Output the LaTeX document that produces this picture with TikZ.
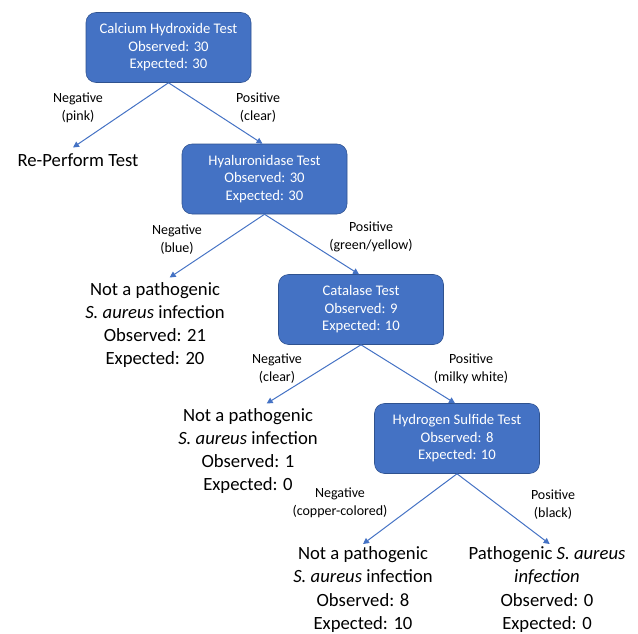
\documentclass[tikz,border=0pt]{standalone}
\usepackage{fontspec}
\setmainfont{Carlito}
\usetikzlibrary{arrows.meta}
\definecolor{boxblue}{HTML}{4472C4}
\definecolor{boxedge}{HTML}{2F528F}
\definecolor{lineblue}{HTML}{4472C4}

\begin{document}
\begin{tikzpicture}[
	x=0.75pt, y=-0.75pt,
	test/.style={rectangle, rounded corners=7.5pt, draw=boxedge, fill=boxblue, text=white, align=center, minimum width=123.75pt, minimum height=52.5pt, font=\fontsize{11}{13.1}\selectfont},
	result/.style={align=center, font=\fontsize{14}{17.4}\selectfont},
	branch/.style={align=center, font=\fontsize{10.5}{13.5}\selectfont},
	line/.style={draw=lineblue, line width=0.75pt, -{Triangle[width=4.5pt,length=4.5pt]}}
	]
	\useasboundingbox (0,0) rectangle (638,633);
	
	% Tests
	\node[test] (calcium) at (168.5,47.5) {Calcium Hydroxide Test\\Observed: 30\\Expected: 30};
	\node[test] (hyal) at (264.5,179) {Hyaluronidase Test\\Observed: 30\\Expected: 30};
	\node[test] (catalase) at (361,309.5) {Catalase Test\\Observed: 9\\Expected: 10};
	\node[test] (sulfide) at (457,438.5) {Hydrogen Sulfide Test\\Observed: 8\\Expected: 10};
	
	% Outcomes
	\node[result] (reperform) at (78,160) {Re-Perform Test};
	\node[result] (notA) at (155,325) {Not a pathogenic\\\textit{S. aureus} infection\\Observed: 21\\Expected: 20};
	\node[result] (notB) at (248,451) {Not a pathogenic\\\textit{S. aureus} infection\\Observed: 1\\Expected: 0};
	\node[result] (notC) at (363,589.5) {Not a pathogenic\\\textit{S. aureus} infection\\Observed: 8\\Expected: 10};
	\node[result] (patho) at (547,589.5) {Pathogenic \textit{S. aureus}\\\textit{infection}\\Observed: 0\\Expected: 0};
	
	% Branch labels
	\node[branch] (negA) at (78,108) {Negative\\(pink)};
	\node[branch] (posA) at (258,108) {Positive\\(clear)};
	\node[branch] (negB) at (177,239.5) {Negative\\(blue)};
	\node[branch] (posB) at (371,237) {Positive\\(green/yellow)};
	\node[branch] (negC) at (277,369) {Negative\\(clear)};
	\node[branch] (posC) at (471,369) {Positive\\(milky white)};
	\node[branch] (negD) at (340,502.5) {Negative\\(copper-colored)};
	\node[branch] (posD) at (553,505) {Positive\\(black)};
	
	% Connections
	\foreach \a/\b in {calcium/hyal,hyal/catalase,catalase/sulfide} {
		\draw[line] (\a.south) -- ([xshift=-1.5pt]\b.north);
	}
	\draw[line] (calcium.south) -- ([xshift=-3.75pt,yshift=1pt]reperform.north);
	\draw[line] (hyal.south) -- ([xshift=11pt]notA.north);
	\draw[line] (catalase.south) -- ([xshift=14pt]notB.north);
	\draw[line] (sulfide.south) -- ([yshift=-1.5pt]notC.north);
	\draw[line] (sulfide.south) -- ([xshift=2pt,yshift=-1.5pt]patho.north);
\end{tikzpicture}
\end{document}
